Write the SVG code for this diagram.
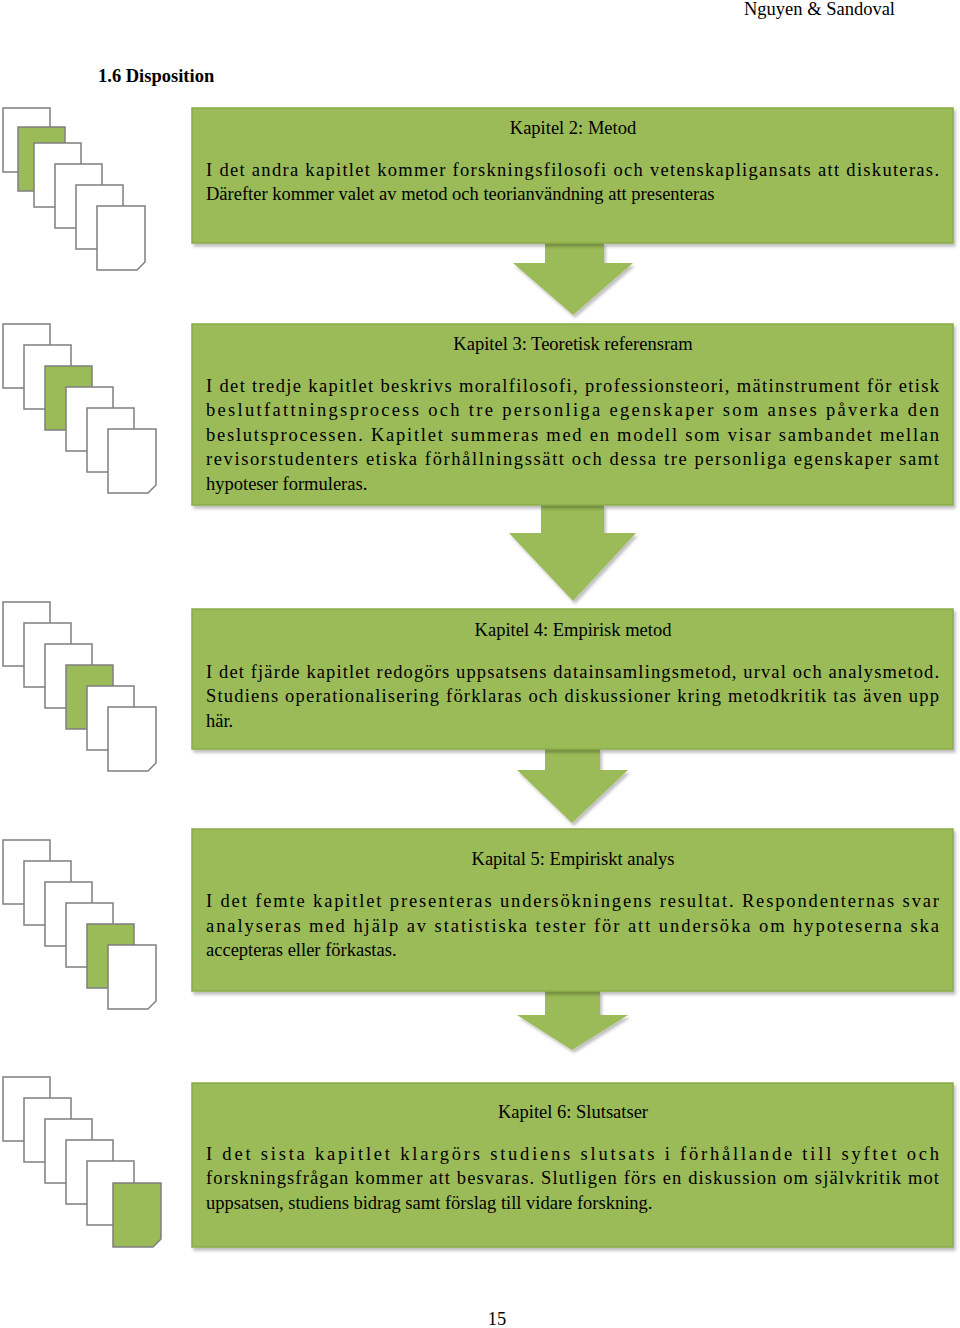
<svg xmlns="http://www.w3.org/2000/svg" width="960" height="1328" viewBox="0 0 960 1328">
<style>
text{font-family:"Liberation Serif",serif;font-size:18.5px;fill:#000}
.box{fill:#9bbb59;stroke:#8aab48;stroke-width:1.5}
.pg{fill:#fff;stroke:#7f7f7f;stroke-width:1.5}
.pgg{fill:#9bbb59;stroke:#7f7f7f;stroke-width:1.5}
.arr{fill:#9bbb59}
.t{text-anchor:middle}
</style>
<defs>
<filter id="sh" x="-5%" y="-5%" width="115%" height="115%"><feDropShadow dx="2" dy="3" stdDeviation="1.5" flood-color="#000" flood-opacity="0.25"/></filter>
</defs>
<text x="895" y="15" text-anchor="end" font-size="19">Nguyen &amp; Sandoval</text>
<text x="98" y="82" font-weight="bold" font-size="20">1.6 Disposition</text>
<text x="497" y="1325" class="t" font-size="20">15</text>

<g id="stack1">
<rect class="pg" x="3" y="108" width="47" height="64"/>
<rect class="pgg" x="18" y="127" width="47" height="64"/>
<rect class="pg" x="34" y="143" width="47" height="64"/>
<rect class="pg" x="55" y="164" width="47" height="64"/>
<rect class="pg" x="76" y="185" width="47" height="64"/>
<path class="pg" d="M97 206h48v56l-8 8h-40z"/>
</g>
<g id="stack2">
<rect class="pg" x="3" y="324" width="47" height="64"/>
<rect class="pg" x="24" y="345" width="47" height="64"/>
<rect class="pgg" x="45" y="366" width="47" height="64"/>
<rect class="pg" x="66" y="387" width="47" height="64"/>
<rect class="pg" x="87" y="408" width="47" height="64"/>
<path class="pg" d="M108 429h48v56l-8 8h-40z"/>
</g>
<g id="stack3">
<rect class="pg" x="3" y="602" width="47" height="64"/>
<rect class="pg" x="24" y="623" width="47" height="64"/>
<rect class="pg" x="45" y="644" width="47" height="64"/>
<rect class="pgg" x="66" y="665" width="47" height="64"/>
<rect class="pg" x="87" y="686" width="47" height="64"/>
<path class="pg" d="M108 707h48v56l-8 8h-40z"/>
</g>
<g id="stack4">
<rect class="pg" x="3" y="840" width="47" height="64"/>
<rect class="pg" x="24" y="861" width="47" height="64"/>
<rect class="pg" x="45" y="882" width="47" height="64"/>
<rect class="pg" x="66" y="903" width="47" height="64"/>
<rect class="pgg" x="87" y="924" width="47" height="64"/>
<path class="pg" d="M108 945h48v56l-8 8h-40z"/>
</g>
<g id="stack5">
<rect class="pg" x="3" y="1077" width="47" height="64"/>
<rect class="pg" x="24" y="1098" width="47" height="64"/>
<rect class="pg" x="45" y="1119" width="47" height="64"/>
<rect class="pg" x="66" y="1140" width="47" height="64"/>
<rect class="pg" x="87" y="1161" width="47" height="64"/>
<path class="pgg" d="M113 1183h48v56l-8 8h-40z"/>
</g>

<g id="connectors">
<path class="arr" filter="url(#sh)" d="M545 243h59v20h29l-60 52l-60-52h32z"/>
<path class="arr" filter="url(#sh)" d="M541 505h63v28h32l-63 68l-64-68h32z"/>
<path class="arr" filter="url(#sh)" d="M545 749h55v21h28l-56 53l-55-53h28z"/>
<path class="arr" filter="url(#sh)" d="M545 991h55v24h28l-56 35l-55-35h28z"/>
</g>

<g id="n2">
<rect class="box" filter="url(#sh)" x="192" y="108" width="761" height="135"/>
<text x="573" y="134" class="t">Kapitel 2: Metod</text>
<text x="206" y="176" textLength="733" lengthAdjust="spacing">I det andra kapitlet kommer forskningsfilosofi och vetenskapligansats att diskuteras.</text>
<text x="206" y="200">Därefter kommer valet av metod och teorianvändning att presenteras</text>
</g>
<g id="n3">
<rect class="box" filter="url(#sh)" x="192" y="324" width="761" height="181"/>
<text x="573" y="350" class="t">Kapitel 3: Teoretisk referensram</text>
<text x="206" y="392" textLength="733" lengthAdjust="spacing">I det tredje kapitlet beskrivs moralfilosofi, professionsteori, mätinstrument för etisk</text>
<text x="206" y="416" textLength="733" lengthAdjust="spacing">beslutfattningsprocess och tre personliga egenskaper som anses påverka den</text>
<text x="206" y="441" textLength="733" lengthAdjust="spacing">beslutsprocessen. Kapitlet summeras med en modell som visar sambandet mellan</text>
<text x="206" y="465" textLength="733" lengthAdjust="spacing">revisorstudenters etiska förhållningssätt och dessa tre personliga egenskaper samt</text>
<text x="206" y="490">hypoteser formuleras.</text>
</g>
<g id="n4">
<rect class="box" filter="url(#sh)" x="192" y="609" width="761" height="140"/>
<text x="573" y="636" class="t">Kapitel 4: Empirisk metod</text>
<text x="206" y="678" textLength="733" lengthAdjust="spacing">I det fjärde kapitlet redogörs uppsatsens datainsamlingsmetod, urval och analysmetod.</text>
<text x="206" y="702" textLength="733" lengthAdjust="spacing">Studiens operationalisering förklaras och diskussioner kring metodkritik tas även upp</text>
<text x="206" y="727">här.</text>
</g>
<g id="n5">
<rect class="box" filter="url(#sh)" x="192" y="829" width="761" height="162"/>
<text x="573" y="865" class="t">Kapital 5: Empiriskt analys</text>
<text x="206" y="907" textLength="733" lengthAdjust="spacing">I det femte kapitlet presenteras undersökningens resultat. Respondenternas svar</text>
<text x="206" y="932" textLength="733" lengthAdjust="spacing">analyseras med hjälp av statistiska tester för att undersöka om hypoteserna ska</text>
<text x="206" y="956">accepteras eller förkastas.</text>
</g>
<g id="n6">
<rect class="box" filter="url(#sh)" x="192" y="1083" width="761" height="164"/>
<text x="573" y="1118" class="t">Kapitel 6: Slutsatser</text>
<text x="206" y="1160" textLength="733" lengthAdjust="spacing">I det sista kapitlet klargörs studiens slutsats i förhållande till syftet och</text>
<text x="206" y="1184" textLength="733" lengthAdjust="spacing">forskningsfrågan kommer att besvaras. Slutligen förs en diskussion om självkritik mot</text>
<text x="206" y="1209">uppsatsen, studiens bidrag samt förslag till vidare forskning.</text>
</g>
</svg>
